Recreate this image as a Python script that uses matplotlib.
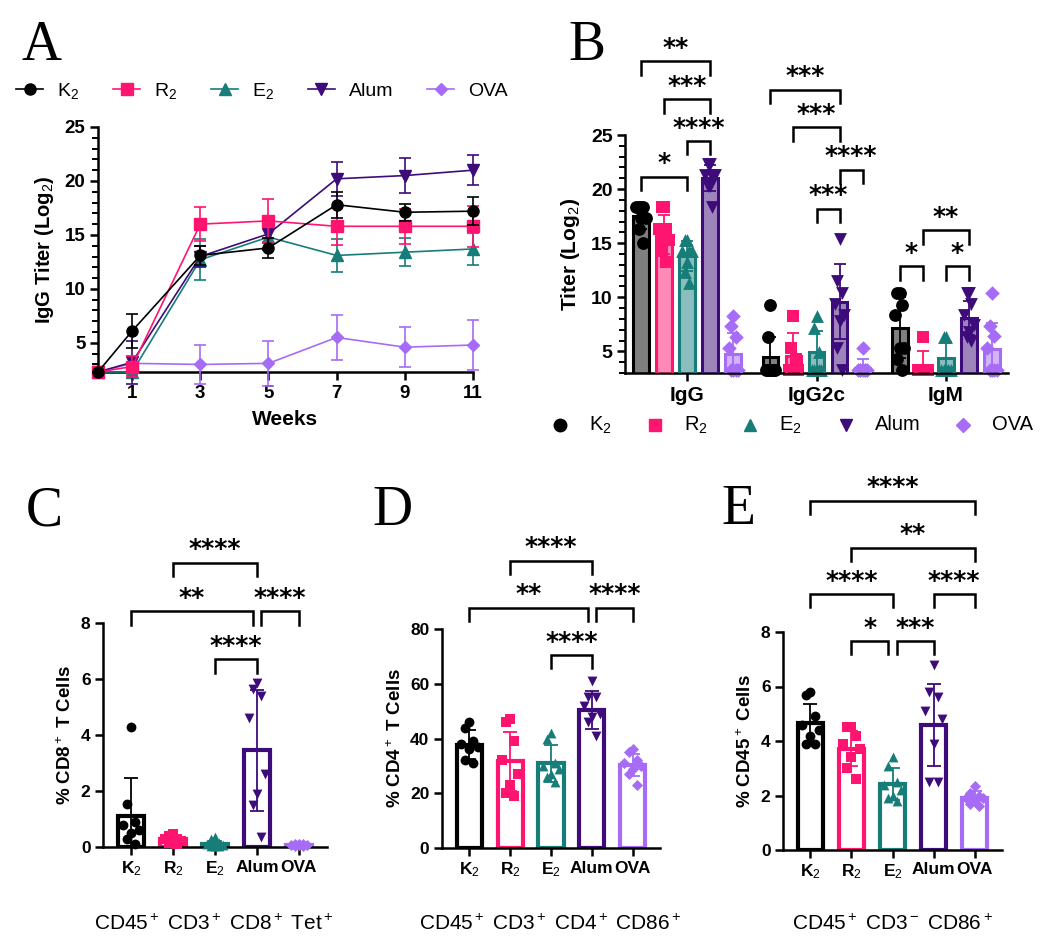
import numpy as np
import matplotlib
matplotlib.use("Agg")
import matplotlib.pyplot as plt
from matplotlib.lines import Line2D
from matplotlib.ticker import MultipleLocator

plt.rcParams['font.family'] = ['Liberation Sans', 'DejaVu Sans']
plt.rcParams['font.weight'] = 'bold'
plt.rcParams['mathtext.fontset'] = 'custom'
plt.rcParams['mathtext.rm'] = 'Liberation Sans:weight=normal'
plt.rcParams['mathtext.it'] = 'Liberation Sans:italic:weight=normal'
plt.rcParams['mathtext.bf'] = 'Liberation Sans:bold'

# ---------------------------------------------------------
# data
# ---------------------------------------------------------
groups = ['K$_2$', 'R$_2$', 'E$_2$', 'Alum', 'OVA']
colors = ['#000000', '#ff1470', '#177d79', '#3d0c7a', '#a66cf5']
markers = ['o', 's', '^', 'v', 'D']

# A - IgG titer over time
weeks = [0, 1, 3, 5, 7, 9, 11]
igg_mean = [
    [2.3, 6.1, 13.1, 13.8, 17.8, 17.1, 17.2],   # K2
    [2.3, 2.8, 16.0, 16.3, 15.8, 15.8, 15.8],   # R2
    [2.3, 2.3, 12.7, 14.8, 13.1, 13.4, 13.7],   # E2
    [2.3, 3.2, 13.0, 15.1, 20.2, 20.5, 21.0],   # Alum
    [2.3, 3.1, 3.0, 3.1, 5.5, 4.6, 4.8],        # OVA
]
igg_sd = [
    [0, 1.6, 0.9, 0.9, 1.2, 0.8, 1.3],
    [0, 1.0, 1.6, 2.0, 1.7, 1.6, 1.9],
    [0, 0.3, 1.9, 1.2, 1.5, 1.3, 1.5],
    [0, 2.0, 1.0, 1.5, 1.6, 1.6, 1.4],
    [0, 0.0, 1.8, 2.1, 2.1, 1.85, 2.3],
]

# B - isotype titers
isotypes = ['IgG', 'IgG2c', 'IgM']
iso_mean = [
    [17.5, 4.5, 7.2],    # K2
    [15.8, 4.6, 3.7],    # R2
    [13.8, 4.9, 4.4],    # E2
    [21.0, 9.6, 8.1],    # Alum
    [4.8, 3.5, 5.2],     # OVA
]
iso_sd = [
    [1.2, 1.8, 2.8],
    [1.8, 2.1, 1.3],
    [1.4, 2.0, 1.5],
    [1.2, 3.5, 1.6],
    [1.9, 0.8, 2.4],
]
iso_points = [
    [[18.3, 18.3, 18.3, 18.3, 17.3, 17.3, 16.3, 15.0],
     [9.3, 6.3, 3.3, 3.3, 3.3, 3.3, 3.3, 3.3],
     [10.4, 10.4, 9.3, 8.4, 5.3, 5.3, 4.3, 3.3]],
    [[18.3, 18.3, 16.3, 16.3, 15.3, 15.3, 14.3, 13.3],
     [8.3, 5.3, 4.3, 3.3, 3.3, 3.3, 3.3, 3.3],
     [6.3, 3.3, 3.3, 3.3, 3.3, 3.3, 3.3, 3.3]],
    [[15.3, 15.3, 14.3, 14.3, 14.3, 13.3, 12.3, 11.3],
     [8.3, 7.2, 4.9, 3.3, 3.3, 3.3, 3.3, 3.3],
     [6.3, 6.3, 3.3, 3.3, 3.3, 3.3, 3.3, 3.3]],
    [[22.3, 22.3, 21.3, 21.3, 21.3, 20.3, 20.3, 18.3],
     [15.4, 11.5, 10.4, 9.4, 8.4, 7.8, 5.3, 3.3],
     [10.4, 10.4, 9.4, 8.4, 7.4, 6.8, 6.3, 6.0]],
    [[8.3, 7.3, 6.3, 5.3, 3.3, 3.3, 3.3, 3.3],
     [5.3, 3.3, 3.3, 3.3, 3.3, 3.3, 3.3, 3.3],
     [10.4, 7.3, 6.4, 5.3, 3.3, 3.3, 3.3, 3.3]],
]

# C - % CD8+ T cells
cd8_mean = [1.12, 0.28, 0.12, 3.45, 0.08]
cd8_sd = [1.35, 0.12, 0.1, 2.15, 0.03]
cd8_points = [
    [4.3, 1.55, 0.9, 0.8, 0.6, 0.5, 0.3, 0.1],
    [0.45, 0.4, 0.3, 0.3, 0.2, 0.2, 0.15, 0.1],
    [0.35, 0.3, 0.15, 0.1, 0.08, 0.05, 0.05, 0.03],
    [5.85, 5.65, 5.4, 4.6, 2.6, 1.9, 1.5, 0.36],
    [0.12, 0.1, 0.09, 0.08, 0.07, 0.06, 0.05, 0.05],
]

# D - % CD4+ T cells
cd4_mean = [37.8, 31.6, 30.9, 50.5, 30.2]
cd4_sd = [5.2, 10.8, 6.7, 7.0, 4.0]
cd4_points = [
    [46, 44, 39, 38, 37, 36, 32, 31],
    [47, 46, 39, 32, 27, 23, 20, 19],
    [42, 40, 31, 30, 29, 27, 26, 24],
    [61, 55, 55, 52, 49, 48, 46, 41],
    [36, 35, 32, 31, 30, 29, 27, 23],
]

# E - % CD45+ cells
cd45_mean = [4.65, 3.72, 2.42, 4.58, 1.9]
cd45_sd = [0.7, 0.64, 0.6, 1.5, 0.25]
cd45_points = [
    [5.8, 5.7, 4.9, 4.6, 4.4, 4.2, 3.9, 3.9],
    [4.5, 4.5, 4.2, 3.9, 3.7, 3.4, 3.0, 2.6],
    [3.4, 3.1, 2.5, 2.4, 2.2, 2.0, 1.9, 1.8],
    [6.8, 5.8, 5.6, 5.1, 4.8, 3.9, 2.5, 2.5],
    [2.35, 2.1, 2.0, 1.9, 1.9, 1.8, 1.7, 1.6],
]

# significance: (x1, x2, height, label)
sig_b = [(-0.356, -0.0, 21.15, '*'), (0.0, 0.178, 24.45, '****'),
         (-0.178, 0.178, 28.3, '***'), (-0.356, 0.178, 31.8, '**'),
         (1.0, 1.178, 18.2, '***'), (1.178, 1.356, 21.8, '****'),
         (0.822, 1.178, 25.7, '***'), (0.644, 1.178, 29.2, '***'),
         (1.644, 1.822, 12.85, '*'), (2.0, 2.178, 12.85, '*'),
         (1.822, 2.178, 16.2, '**')]
sig_c = [(2, 3, 6.7, '****'), (0, 2.9, 8.42, '**'), (3.1, 4, 8.42, '****'),
         (1, 3, 10.15, '****')]
sig_d = [(2, 3, 70.5, '****'), (0, 2.9, 87.8, '**'), (3.1, 4, 87.8, '****'),
         (1, 3, 105, '****')]
sig_e = [(1, 1.9, 7.67, '*'), (2.1, 3, 7.67, '***'), (0, 2, 9.38, '****'),
         (3, 4, 9.38, '****'), (1, 4, 11.1, '**'), (0, 4, 12.82, '****')]

# ---------------------------------------------------------
# helpers
# ---------------------------------------------------------
W, H = 1050, 947


def axes_px(left, top, right, bottom):
    return fig.add_axes([left / W, 1 - bottom / H, (right - left) / W, (bottom - top) / H])


def style(ax, labelsize=13):
    for s in ['top', 'right']:
        ax.spines[s].set_visible(False)
    for s in ['left', 'bottom']:
        ax.spines[s].set_linewidth(1.8)
    ax.tick_params(which='major', width=1.8, length=6, labelsize=labelsize, pad=3)
    ax.tick_params(which='minor', width=1.4, length=4)


def bracket(ax, x1, x2, y, h, label, fs=18):
    ax.plot([x1, x1, x2, x2], [y - h, y, y, y - h], color='black', lw=1.8,
            clip_on=False, solid_joinstyle='miter')
    ax.annotate(label, ((x1 + x2) / 2, y), xytext=(0, 1), textcoords='offset points',
                ha='center', va='bottom', fontsize=fs, fontweight='bold',
                family='DejaVu Sans', annotation_clip=False)


def spread(vals, step):
    order = np.argsort(vals)[::-1]
    pattern = np.array([0, -1, 1, -2, 2, 0, -1, 1, -2, 2]) * step
    offs = np.zeros(len(vals))
    offs[order] = pattern[:len(vals)]
    return offs


def scatter_bar(ax, means, sds, points, ymax, ytick, ylabel, caption_x, caption):
    x = np.arange(len(groups))
    for i in range(len(groups)):
        ax.bar(x[i], means[i], width=0.62, facecolor='white', edgecolor=colors[i],
               linewidth=3.0, zorder=2)
        ax.errorbar(x[i], means[i], yerr=sds[i], color=colors[i], lw=1.3,
                    capsize=5, capthick=1.3, zorder=3)
        pts = np.asarray(points[i], dtype=float)
        ax.scatter(x[i] + spread(pts, 0.1), pts, marker=markers[i],
                   s=32 if markers[i] == 'D' else 50, color=colors[i],
                   zorder=4, clip_on=False, linewidths=0)
    ax.set_xlim(-0.67, 4.67)
    ax.set_ylim(0, ymax)
    ax.set_yticks(np.arange(0, ymax + 0.01, ytick))
    ax.set_xticks(x)
    ax.set_xticklabels(groups)
    ax.set_ylabel(ylabel, fontsize=13.5, fontweight='bold', labelpad=4)
    style(ax, labelsize=12.5)
    fig.text(caption_x / W, 1 - 924 / H, caption, fontsize=15, fontweight='normal',
             ha='center', va='center')


fig = plt.figure(figsize=(10.5, 9.47), dpi=100)

# ---------------------------------------------------------
# A
# ---------------------------------------------------------
axA = axes_px(98, 127, 473, 372)
order_a = [4, 2, 3, 1, 0]
for i in order_a:
    ax_ms = 6 if markers[i] == 'D' else 8
    axA.errorbar(weeks, igg_mean[i], yerr=igg_sd[i], color=colors[i], marker=markers[i],
                 ms=ax_ms, lw=1.2, elinewidth=1.2, capsize=4, capthick=1.2,
                 clip_on=False, zorder=3 + order_a.index(i))
axA.set_xlim(0, 11)
axA.set_ylim(2.3, 25)
axA.set_xticks([1, 3, 5, 7, 9, 11])
axA.set_yticks([5, 10, 15, 20, 25])
axA.yaxis.set_minor_locator(MultipleLocator(1))
axA.set_xlabel('Weeks', fontsize=15, fontweight='bold', labelpad=6)
axA.set_ylabel('IgG Titer (Log$_2$)', fontsize=14.5, fontweight='bold', labelpad=6)
style(axA, labelsize=13.5)

handles = [Line2D([], [], color=colors[i], marker=markers[i], ms=6 if markers[i] == 'D' else 8,
                  lw=1.2) for i in range(5)]
fig.legend(handles, groups, loc='center left', bbox_to_anchor=(16 / W, 1 - 91 / H), ncol=5,
           frameon=False, prop={'size': 14, 'weight': 'normal'}, handlelength=1.4,
           handletextpad=0.7, columnspacing=1.75, borderaxespad=0, borderpad=0)

# ---------------------------------------------------------
# B
# ---------------------------------------------------------
axB = axes_px(625, 135, 1008, 373)
gx = np.arange(len(isotypes))
off = 0.178
for i in range(5):
    xs = gx + (i - 2) * off
    face = matplotlib.colors.to_rgba(colors[i], 0.5)
    for j in range(len(isotypes)):
        pts = np.asarray(iso_points[i][j], dtype=float)
        axB.scatter(xs[j] + spread(pts, 0.018), pts, marker=markers[i],
                    s=55 if markers[i] == 'D' else 85, color=colors[i], zorder=2,
                    clip_on=False, linewidths=0)
        axB.errorbar(xs[j], iso_mean[i][j], yerr=iso_sd[i][j], color=colors[i], lw=1.3,
                     capsize=4, capthick=1.3, zorder=2.5)
    axB.bar(xs, iso_mean[i], width=0.12, facecolor=face, edgecolor=colors[i],
            linewidth=2.2, zorder=3)
axB.set_xlim(-0.48, 2.48)
axB.set_ylim(3.0, 25)
axB.set_xticks(gx)
axB.set_xticklabels(isotypes)
axB.set_yticks([5, 10, 15, 20, 25])
axB.yaxis.set_minor_locator(MultipleLocator(1))
axB.set_ylabel('Titer (Log$_2$)', fontsize=15, fontweight='bold', labelpad=6)
style(axB, labelsize=14)
axB.tick_params(axis='x', labelsize=15)
for x1, x2, y, lab in sig_b:
    bracket(axB, x1, x2, y, 1.25, lab)

# legend row under B: marker keys and labels
key_x = [560, 655, 750, 846, 963]
for i in range(5):
    fig.add_artist(Line2D([key_x[i] / W], [1 - 425 / H], transform=fig.transFigure,
                          ls='none', color=colors[i], marker=markers[i],
                          ms=7 if markers[i] == 'D' else 9))
    fig.text((key_x[i] + 29) / W, 1 - 425 / H, groups[i], fontsize=14.5, fontweight='normal',
             ha='left', va='center')

# ---------------------------------------------------------
# C, D, E
# ---------------------------------------------------------
axC = axes_px(103, 623, 327, 847)
scatter_bar(axC, cd8_mean, cd8_sd, cd8_points, 8, 2, '% CD8$^+$ T Cells', 214,
            'CD45$^+$ CD3$^+$ CD8$^+$ Tet$^+$')
for x1, x2, y, lab in sig_c:
    bracket(axC, x1, x2, y, 0.48, lab)

axD = axes_px(442, 629, 660, 848)
scatter_bar(axD, cd4_mean, cd4_sd, cd4_points, 80, 20, '% CD4$^+$ T Cells', 550,
            'CD45$^+$ CD3$^+$ CD4$^+$ CD86$^+$')
for x1, x2, y, lab in sig_d:
    bracket(axD, x1, x2, y, 4.8, lab)

axE = axes_px(783, 632, 1002, 850)
scatter_bar(axE, cd45_mean, cd45_sd, cd45_points, 8, 2, '% CD45$^+$ Cells', 892,
            'CD45$^+$ CD3$^-$ CD86$^+$')
for x1, x2, y, lab in sig_e:
    bracket(axE, x1, x2, y, 0.48, lab)

# panel letters
for lab, x, y in [('A', 22, 60), ('B', 568, 60), ('C', 26, 525), ('D', 372, 525), ('E', 721, 524)]:
    fig.text(x / W, 1 - y / H, lab, fontsize=40, fontweight='normal',
             family='Liberation Serif', va='baseline')

fig.savefig('out.png', dpi=100)
